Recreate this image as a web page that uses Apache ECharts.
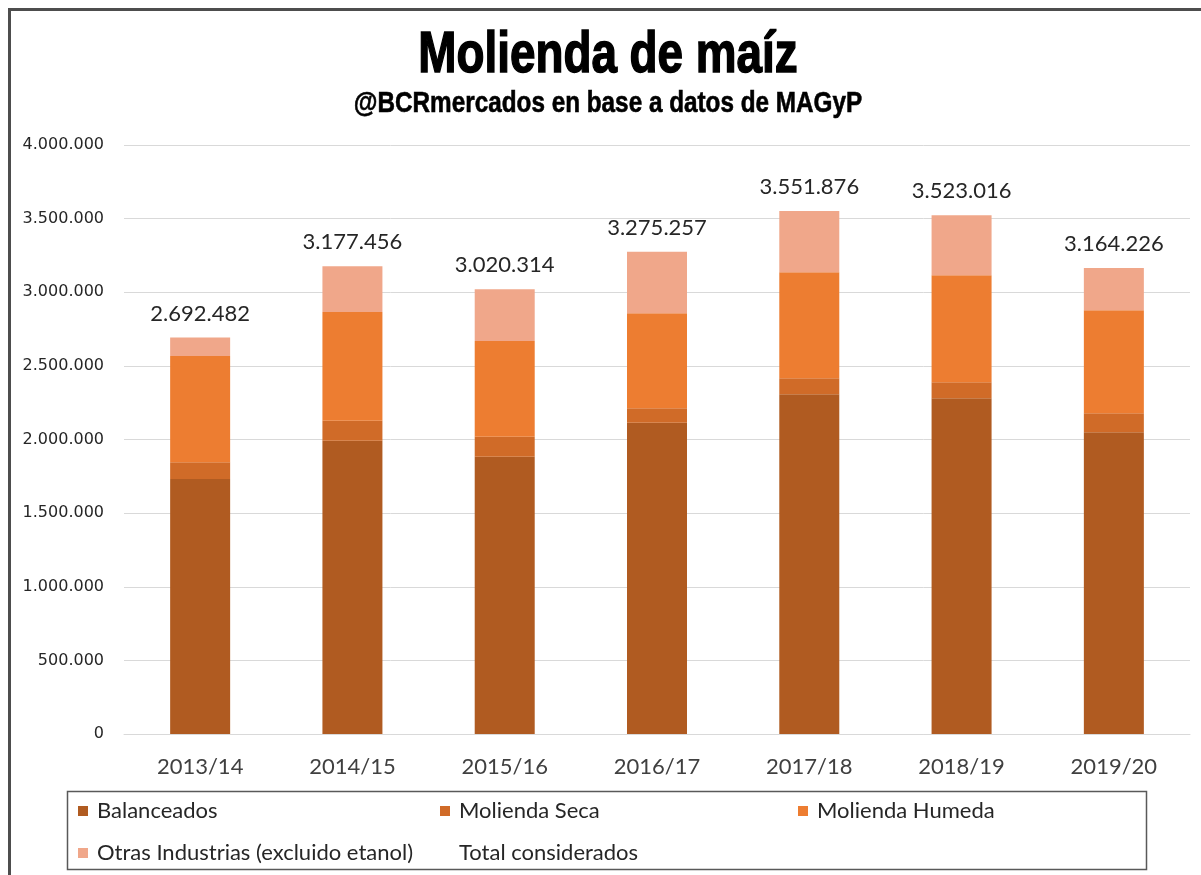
<!DOCTYPE html>
<html>
<head>
<meta charset="utf-8">
<title>Molienda de maíz</title>
<script src="https://cdn.jsdelivr.net/npm/echarts/dist/echarts.min.js"></script>
<style>
  html, body { margin: 0; padding: 0; background: #fff; }
  #chart { width: 1201px; height: 875px; }
</style>
</head>
<body>
<div id="chart"></div>
<script>
// campaign years
const categories = ['2013/14', '2014/15', '2015/16', '2016/17', '2017/18', '2018/19', '2019/20'];

// tonnes
const balanceados = [1732000, 1992000, 1883000, 2114000, 2307000, 2280000, 2049000];
const moliendaSeca = [113000, 136000, 136000, 98000, 109000, 108000, 129000];
const moliendaHumeda = [722000, 738000, 650000, 645000, 719000, 727000, 699000];
const otrasIndustrias = [125000, 311000, 351000, 418000, 417000, 408000, 287000];
const totalConsiderados = [2692482, 3177456, 3020314, 3275257, 3551876, 3523016, 3164226];

const titleText = 'Molienda de maíz';
const subtitleText = '@BCRmercados en base a datos de MAGyP';

const fmt = (v) => String(v).replace(/\B(?=(\d{3})+(?!\d))/g, '.');

const chart = echarts.init(document.getElementById('chart'));

const legendText = {
  fontFamily: 'Lato',
  fontSize: 22,
  color: '#262626',
  padding: [0, 0, 0, 4],
};

const legendBase = {
  orient: 'horizontal',
  padding: 0,
  itemWidth: 10,
  itemHeight: 10,
  icon: 'rect',
  selectedMode: false,
  textStyle: legendText,
};

const option = {
  animation: false,
  backgroundColor: '#fff',
  legend: [
    Object.assign({}, legendBase, { data: ['Balanceados'], left: 78, top: 800 }),
    Object.assign({}, legendBase, { data: ['Molienda Seca'], left: 440, top: 800 }),
    Object.assign({}, legendBase, { data: ['Molienda Humeda'], left: 798, top: 800 }),
    Object.assign({}, legendBase, { data: ['Otras Industrias (excluido etanol)'], left: 78, top: 842 }),
    Object.assign({}, legendBase, { data: ['Total considerados'], left: 440, top: 842 }),
  ],
  grid: {
    left: 124,
    right: 11,
    top: 145,
    bottom: 141,
    containLabel: false,
  },
  xAxis: {
    type: 'category',
    data: categories,
    axisTick: { show: false },
    axisLine: { lineStyle: { color: '#d9d9d9', width: 1 } },
    axisLabel: {
      margin: 22,
      fontFamily: 'Lato',
      fontSize: 22,
      color: '#404040',
    },
  },
  yAxis: {
    type: 'value',
    min: 0,
    max: 4000000,
    interval: 500000,
    axisLine: { show: false },
    axisTick: { show: false },
    splitLine: { lineStyle: { color: '#d9d9d9', width: 1 } },
    axisLabel: {
      margin: 20,
      fontFamily: 'DejaVu Sans',
      fontSize: 16,
      color: '#262626',
      formatter: (v) => fmt(v),
    },
  },
  series: [
    {
      name: 'Balanceados',
      type: 'bar',
      stack: 'molienda',
      barWidth: 60,
      data: balanceados,
      itemStyle: { color: '#B05B21' },
    },
    {
      name: 'Molienda Seca',
      type: 'bar',
      stack: 'molienda',
      barWidth: 60,
      data: moliendaSeca,
      itemStyle: { color: '#D06B28' },
    },
    {
      name: 'Molienda Humeda',
      type: 'bar',
      stack: 'molienda',
      barWidth: 60,
      data: moliendaHumeda,
      itemStyle: { color: '#ED7D31' },
    },
    {
      name: 'Otras Industrias (excluido etanol)',
      type: 'bar',
      stack: 'molienda',
      barWidth: 60,
      data: otrasIndustrias,
      itemStyle: { color: '#F0A78A' },
    },
    {
      // no fill, only carries the total labels
      name: 'Total considerados',
      type: 'bar',
      barWidth: 60,
      barGap: '-100%',
      data: totalConsiderados,
      itemStyle: { color: 'rgba(0,0,0,0)' },
      label: {
        show: true,
        position: 'top',
        distance: 13,
        fontFamily: 'Lato',
        fontSize: 22,
        color: '#262626',
        formatter: (p) => fmt(p.value),
      },
      z: 3,
    },
  ],
  graphic: [
    {
      // title, squeezed to look like a condensed heavy face
      type: 'text',
      x: 608,
      y: 56,
      scaleX: 0.79,
      silent: true,
      style: {
        text: titleText,
        font: 'bold 58px "Liberation Sans", Arial, sans-serif',
        fill: '#000',
        stroke: '#000',
        lineWidth: 1.5,
        textAlign: 'center',
        textVerticalAlign: 'middle',
      },
    },
    {
      type: 'text',
      x: 608,
      y: 104,
      scaleX: 0.81,
      silent: true,
      style: {
        text: subtitleText,
        font: 'bold 30px "Liberation Sans", Arial, sans-serif',
        fill: '#000',
        stroke: '#000',
        lineWidth: 0.6,
        textAlign: 'center',
        textVerticalAlign: 'middle',
      },
    },
    {
      // outer frame
      type: 'rect',
      shape: { x: 9.5, y: 9.5, width: 1200, height: 880 },
      style: { fill: 'none', stroke: '#4d4d4d', lineWidth: 3 },
      silent: true,
    },
    {
      // legend box
      type: 'rect',
      shape: { x: 67.5, y: 791.5, width: 1079, height: 78 },
      style: { fill: 'none', stroke: '#595959', lineWidth: 1.5 },
      silent: true,
    },
  ],
};

chart.setOption(option);

window.addEventListener('resize', () => chart.resize());
</script>
</body>
</html>
